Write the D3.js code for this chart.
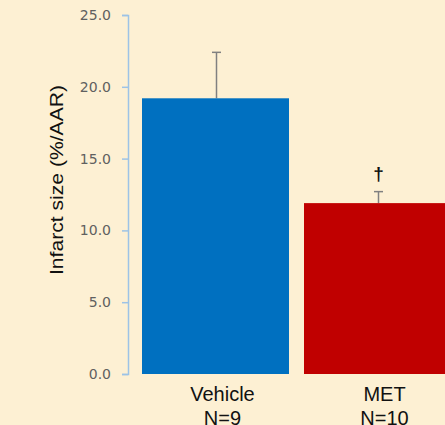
<!DOCTYPE html>
<html>
<head>
<meta charset="utf-8">
<script src="https://cdn.jsdelivr.net/npm/d3@7"></script>
<style>
  html, body { margin: 0; padding: 0; background: #FDF0D3; }
  svg { display: block; }
</style>
</head>
<body>
<svg id="chart" width="445" height="425"></svg>
<script>
// Infarct size by treatment group
const groups = ["Vehicle", "MET"];
const groupN = ["N=9", "N=10"];
const means = [19.2, 11.9];
const errors = [3.2, 0.8];
const marks = ["", "\u2020"];
const yTicks = [0, 5, 10, 15, 20, 25];
const barColors = ["#0070C0", "#C00000"];

const svg = d3.select("#chart");
const W = 445, H = 425;

svg.append("rect").attr("width", W).attr("height", H).attr("fill", "#FDF0D3");

const y = d3.scaleLinear().domain([0, 25]).range([374, 15]);
const x = d3.scaleBand().domain(groups).range([142, 451]).paddingInner(0.0926).paddingOuter(0);

// y axis
const axisX = 128;
const yAxis = d3.axisLeft(y).tickValues(yTicks).tickFormat(d3.format(".1f")).tickSize(6).tickPadding(11);
const gAxis = svg.append("g").attr("transform", `translate(${axisX},0)`).call(yAxis);
gAxis.attr("font-size", null).attr("font-family", null);
gAxis.select(".domain").attr("stroke", "#9DC3E6").attr("stroke-width", 1.5);
gAxis.selectAll(".tick line").attr("stroke", "#9DC3E6").attr("stroke-width", 1.5);
gAxis.selectAll(".tick text")
  .attr("fill", "#606060")
  .attr("font-family", "'DejaVu Sans', sans-serif")
  .attr("font-size", "14px");

// y axis title
svg.append("text")
  .attr("transform", `translate(63,${(85 + 275) / 2}) rotate(-90)`)
  .attr("text-anchor", "middle")
  .attr("textLength", 190)
  .attr("lengthAdjust", "spacingAndGlyphs")
  .style("font-family", "'Liberation Sans', Arial, sans-serif")
  .style("font-size", "18px")
  .attr("fill", "#111")
  .text("Infarct size (%/AAR)");

// error bars (upper whisker only)
const errG = svg.append("g");
groups.forEach((g, i) => {
  const cx = x(g) + x.bandwidth() / 2 + 1;
  errG.append("line")
    .attr("x1", cx).attr("x2", cx)
    .attr("y1", y(means[i])).attr("y2", y(means[i] + errors[i]))
    .attr("stroke", "#808080").attr("stroke-width", 1.5);
  errG.append("line")
    .attr("x1", cx - 4.5).attr("x2", cx + 4.5)
    .attr("y1", y(means[i] + errors[i])).attr("y2", y(means[i] + errors[i]))
    .attr("stroke", "#808080").attr("stroke-width", 1.5);
  if (marks[i]) {
    svg.append("text")
      .attr("x", cx).attr("y", y(means[i] + errors[i]) - 12)
      .attr("text-anchor", "middle")
      .style("font-family", "'Liberation Sans', Arial, sans-serif")
      .style("font-size", "19px")
      .style("font-weight", "bold")
      .attr("fill", "#111")
      .text(marks[i]);
  }
});

// bars
svg.append("g").selectAll("rect").data(groups).join("rect")
  .attr("x", d => x(d))
  .attr("y", (d, i) => y(means[i]))
  .attr("width", x.bandwidth())
  .attr("height", (d, i) => y(0) - y(means[i]))
  .attr("fill", (d, i) => barColors[i]);

// category labels
const lab = svg.append("g")
  .style("font-family", "'Liberation Sans', Arial, sans-serif")
  .style("font-size", "20px")
  .attr("fill", "#111")
  .attr("text-anchor", "middle");
groups.forEach((g, i) => {
  const cx = x(g) + x.bandwidth() / 2 + 7;
  lab.append("text").attr("x", cx).attr("y", 401).text(g);
  lab.append("text").attr("x", cx).attr("y", 425).text(groupN[i]);
});
</script>
</body>
</html>
